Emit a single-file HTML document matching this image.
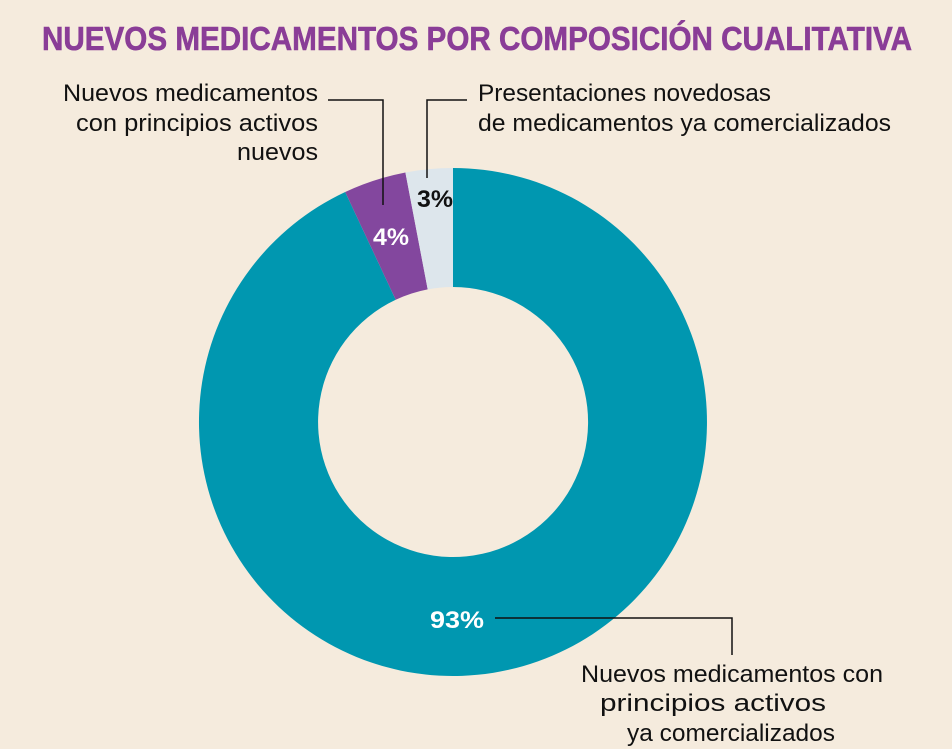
<!DOCTYPE html>
<html><head><meta charset="utf-8"><style>
html,body{margin:0;padding:0;background:#f5ebdd;}
svg{display:block;}
</style></head><body>
<svg width="952" height="749" viewBox="0 0 952 749" xmlns="http://www.w3.org/2000/svg">
<rect width="952" height="749" fill="#f5ebdd"/>
<text x="42" y="50" font-family="Liberation Sans Narrow, Liberation Sans, sans-serif" font-weight="bold" font-size="33" fill="#8a3d97" stroke="#8a3d97" stroke-width="0.6" textLength="870" lengthAdjust="spacingAndGlyphs">NUEVOS MEDICAMENTOS POR COMPOSICIÓN CUALITATIVA</text>
<g transform="translate(453,422)">
<path d="M0,-254 A254,254 0 1 1 -107.8,-230.0 L-57.3,-122.2 A135,135 0 1 0 0,-135 Z" fill="#0097b0"/>
<path d="M-107.8,-230.0 A254,254 0 0 1 -47.6,-249.5 L-25.3,-132.6 A135,135 0 0 0 -57.3,-122.2 Z" fill="#83479e"/>
<path d="M-47.6,-249.5 A254,254 0 0 1 0,-254 L0,-135 A135,135 0 0 0 -25.3,-132.6 Z" fill="#dde6ec"/>
</g>
<g fill="none" stroke="#111" stroke-width="1.5">
<polyline points="328,100 383,100 383,205"/>
<polyline points="467,100 427,100 427,178"/>
<polyline points="495,618 732,618 732,655"/>
</g>
<g font-family="Liberation Sans Narrow, Liberation Sans, sans-serif" font-size="24" fill="#111">
<text x="63" y="101" textLength="255" lengthAdjust="spacingAndGlyphs">Nuevos medicamentos</text>
<text x="76" y="131" textLength="242" lengthAdjust="spacingAndGlyphs">con principios activos</text>
<text x="237" y="160" textLength="81" lengthAdjust="spacingAndGlyphs">nuevos</text>
<text x="478" y="101" textLength="293" lengthAdjust="spacingAndGlyphs">Presentaciones novedosas</text>
<text x="478" y="131" textLength="413" lengthAdjust="spacingAndGlyphs">de medicamentos ya comercializados</text>
<text x="581" y="682" textLength="302" lengthAdjust="spacingAndGlyphs">Nuevos medicamentos con</text>
<text x="600" y="711" textLength="226" lengthAdjust="spacingAndGlyphs">principios activos</text>
<text x="627" y="741" textLength="208" lengthAdjust="spacingAndGlyphs">ya comercializados</text>
</g>
<g font-family="Liberation Sans Narrow, Liberation Sans, sans-serif" font-size="24" font-weight="bold">
<text x="430" y="628" fill="#fff" textLength="54" lengthAdjust="spacingAndGlyphs">93%</text>
<text x="373" y="245" fill="#fff" textLength="36" lengthAdjust="spacingAndGlyphs">4%</text>
<text x="417" y="207" fill="#111" textLength="36" lengthAdjust="spacingAndGlyphs">3%</text>
</g>
</svg>
</body></html>
